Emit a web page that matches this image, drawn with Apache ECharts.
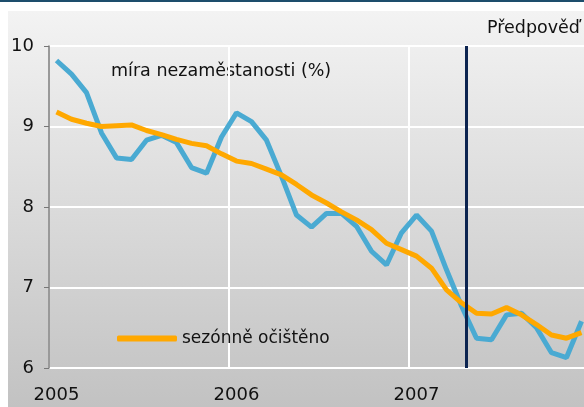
<!DOCTYPE html>
<html>
<head>
<meta charset="utf-8">
<script src="https://cdn.jsdelivr.net/npm/echarts@6/dist/echarts.min.js"></script>
<style>
html, body { margin: 0; padding: 0; background: #fff; }
#main { width: 584px; height: 407px; }
</style>
</head>
<body>
<div id="main"></div>
<script>
// měsíce 2005-2007
var months = [];
for (var y = 2005; y <= 2007; y++) {
    for (var m = 1; m <= 12; m++) {
        months.push(m === 1 ? String(y) : y + '-' + m);
    }
}
// míra nezaměstnanosti (%)
var unemployment = [9.82, 9.65, 9.42, 8.92, 8.61, 8.59, 8.83, 8.89, 8.80, 8.49, 8.42, 8.87,
                    9.17, 9.06, 8.83, 8.38, 7.90, 7.75, 7.92, 7.92, 7.76, 7.45, 7.28, 7.68,
                    7.90, 7.70, 7.22, 6.77, 6.37, 6.35, 6.66, 6.68, 6.50, 6.19, 6.13, 6.58];
// sezónně očištěno
var adjusted = [9.18, 9.09, 9.04, 9.00, 9.01, 9.02, 8.95, 8.90, 8.84, 8.79, 8.76, 8.66,
                8.57, 8.54, 8.47, 8.40, 8.28, 8.15, 8.05, 7.94, 7.84, 7.72, 7.55, 7.47,
                7.39, 7.24, 6.97, 6.81, 6.68, 6.67, 6.75, 6.66, 6.54, 6.41, 6.37, 6.44];
// začátek předpovědi (měsíce od ledna 2005)
var forecastStart = 27.8;

var myChart = echarts.init(document.getElementById('main'));

var option = {
    animation: false,
    graphic: [
        {
            type: 'rect', z: -10, silent: true,
            shape: { x: 8, y: 11, width: 576, height: 396 },
            style: {
                fill: new echarts.graphic.LinearGradient(0, 0, 0, 1, [
                    { offset: 0, color: '#f3f3f3' },
                    { offset: 1, color: '#c2c2c2' }
                ])
            }
        },
        {
            type: 'rect', z: -10, silent: true,
            shape: { x: 0, y: 0, width: 584, height: 2 },
            style: { fill: '#1d4e6c' }
        },
        {
            type: 'text', left: 111, top: 62,
            style: { text: 'míra nezaměstanosti (%)', fontFamily: 'DejaVu Sans', fontSize: 17.5, fill: '#111' }
        },
        {
            type: 'text', left: 487, top: 19,
            style: { text: 'Předpověď', fontFamily: 'DejaVu Sans', fontSize: 17.5, fill: '#111' }
        }
    ],
    legend: {
        left: 112,
        top: 325,
        itemWidth: 60,
        itemHeight: 6,
        data: [{ name: 'sezónně očištěno', icon: 'roundRect' }],
        textStyle: { fontFamily: 'DejaVu Sans', fontSize: 17, color: '#111' }
    },
    // graf přesahuje pravý okraj
    grid: {
        left: 49,
        width: 540,
        top: 46,
        bottom: 39,
        outerBoundsMode: 'none'
    },
    xAxis: [
        {
            type: 'category',
            boundaryGap: true,
            data: months,
            axisLine: { show: false },
            axisTick: { show: false, interval: 11 },
            axisLabel: {
                interval: 11,
                margin: 18,
                fontFamily: 'DejaVu Sans',
                fontSize: 18,
                color: '#111',
                formatter: function (v) { return v.length === 4 ? v : ''; }
            },
            splitLine: { show: true, interval: 11, lineStyle: { color: '#fff', width: 2 } }
        },
        {
            type: 'value',
            min: 0,
            max: 36,
            show: false
        }
    ],
    yAxis: {
        type: 'value',
        min: 6,
        max: 10,
        interval: 1,
        axisLine: { show: true, lineStyle: { color: '#777', width: 1.5 } },
        axisTick: { show: true, length: 5, lineStyle: { color: '#777' } },
        axisLabel: { margin: 15, fontFamily: 'DejaVu Sans', fontSize: 18, color: '#111' },
        splitLine: { lineStyle: { color: '#fff', width: 2 } }
    },
    series: [
        {
            name: 'míra nezaměstanosti',
            type: 'line',
            data: unemployment,
            symbol: 'none',
            lineStyle: { color: '#4aaad2', width: 5 },
            itemStyle: { color: '#4aaad2' },
            z: 3
        },
        {
            name: 'sezónně očištěno',
            type: 'line',
            data: adjusted,
            symbol: 'none',
            lineStyle: { color: '#ffa800', width: 5 },
            itemStyle: { color: '#ffa800' },
            z: 4
        },
        {
            name: 'předpověď',
            type: 'line',
            xAxisIndex: 1,
            data: [],
            markLine: {
                silent: true,
                symbol: 'none',
                label: { show: false },
                lineStyle: { color: '#0c2450', width: 3, type: 'solid' },
                data: [[{ coord: [forecastStart, 10] }, { coord: [forecastStart, 6] }]]
            },
            z: 5
        }
    ]
};

myChart.setOption(option);
</script>
</body>
</html>
